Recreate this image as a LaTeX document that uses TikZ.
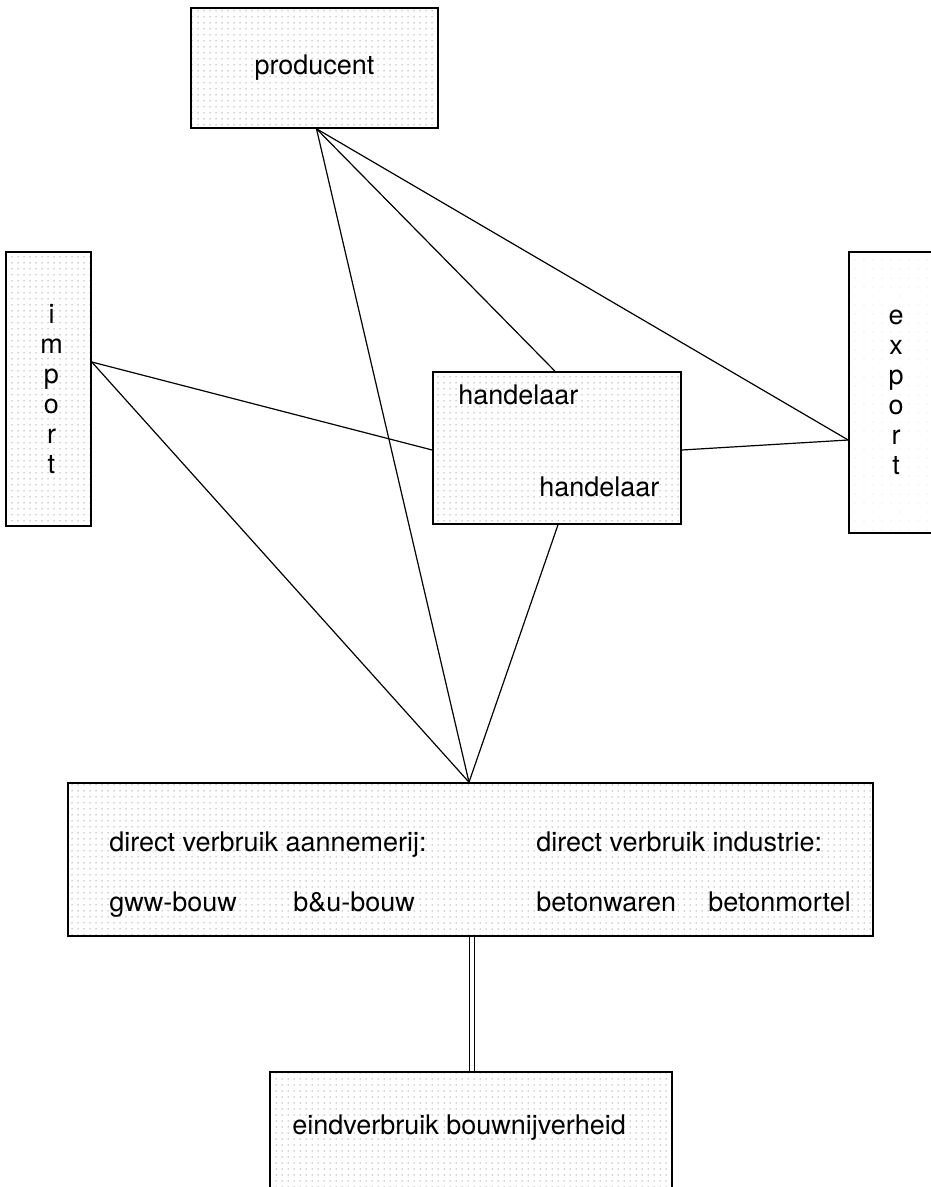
\documentclass[tikz,border=0pt]{standalone}
\usepackage{fontspec}
\setmainfont{TeX Gyre Heros}
\usetikzlibrary{calc,patterns.meta}
\begin{document}
\begin{tikzpicture}[x=1pt,y=-1pt,
  box/.style={draw,line width=1.6pt,pattern={Dots[distance=6pt,radius=0.5pt]},pattern color=black!75,inner sep=0pt,font=\fontsize{27}{30}\selectfont,align=center},
  lightbox/.style={box,pattern={Dots[distance=9pt,radius=0.45pt]},pattern color=black!35},
  lbl/.style={font=\fontsize{27}{30}\selectfont,anchor=base west,inner sep=0pt},
  link/.style={line width=1.2pt},
  dbl/.style={line width=1.2pt,double distance=4pt}]
\useasboundingbox (0,0) rectangle (931,1187);
\clip (0,0) rectangle (931,1187);
% boxes
\node[box,minimum width=247pt,minimum height=120pt] (prod) at (314.5,68) {producent};
\node[box,minimum width=85pt,minimum height=274pt,text width=85pt] (imp) at (48.5,389) {\hspace*{6pt}i\\\hspace*{6pt}m\\\hspace*{6pt}p\\\hspace*{6pt}o\\\hspace*{6pt}r\\\hspace*{6pt}t};
\node[lightbox,minimum width=94pt,minimum height=281pt] (exp) at (896,392.5) {e\\x\\p\\o\\r\\t};
\node[box,minimum width=248pt,minimum height=152pt] (hand) at (557,448) {};
\node[lbl] (h1) at ($(hand.north west)+(26,33)$) {handelaar};
\node[lbl] (h2) at ($(hand.north west)+(107,125)$) {handelaar};
\node[box,minimum width=805pt,minimum height=153pt] (main) at (470.5,859.5) {};
\node[lbl] (m1) at ($(main.north west)+(42,69)$) {direct verbruik aannemerij:};
\node[lbl] (m2) at ($(main.north west)+(469,69)$) {direct verbruik industrie:};
\node[lbl] (m3) at ($(main.north west)+(42,129)$) {gww-bouw};
\node[lbl] (m4) at ($(main.north west)+(226,129)$) {b\&u-bouw};
\node[lbl] (m5) at ($(main.north west)+(469,129)$) {betonwaren};
\node[lbl] (m6) at ($(main.north west)+(641,129)$) {betonmortel};
\node[box,minimum width=402pt,minimum height=200pt,anchor=north] (bot) at (471,1071) {};
\node[lbl] (b1) at ($(bot.north west)+(23,63)$) {eindverbruik bouwnijverheid};
% connector points
\coordinate (ps) at ($(prod.south)+(2,0)$);
\coordinate (mt) at ($(main.north)+(-1.5,0)$);
\coordinate (ir) at ($(imp.east)+(0,-27)$);
\coordinate (el) at ($(exp.west)+(0,47.5)$);
\coordinate (ht) at ($(hand.north)+(-2,0)$);
\coordinate (hl) at ($(hand.west)+(0,2)$);
\coordinate (hr) at ($(hand.east)+(0,2)$);
\coordinate (hb) at ($(hand.south)+(1,0)$);
% connectors
\draw[link] (ps) -- (ht);
\draw[link] (ps) -- (mt);
\draw[link] (ps) -- (el);
\draw[link] (ir) -- (hl);
\draw[link] (ir) -- (mt);
\draw[link] (hr) -- (el);
\draw[link] (hb) -- (mt);
\draw[dbl] ($(main.south)+(1.5,0)$) -- ($(bot.north)+(1,0)$);
\end{tikzpicture}
\end{document}
